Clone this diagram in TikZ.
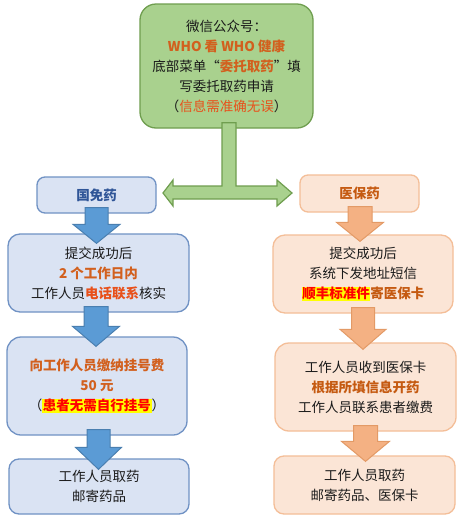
\documentclass[tikz,border=0pt]{standalone}
\usepackage{fontspec}
\setmainfont{Noto Sans CJK SC}
\usetikzlibrary{calc}
\definecolor{gfill}{HTML}{A9D18E}
\definecolor{gdraw}{HTML}{6F9E4F}
\definecolor{bfill}{HTML}{DAE3F3}
\definecolor{bdraw}{HTML}{7092C4}
\definecolor{bafill}{HTML}{5B9BD5}
\definecolor{badraw}{HTML}{4A7FB0}
\definecolor{ofill}{HTML}{FBE5D6}
\definecolor{odraw}{HTML}{F4BE98}
\definecolor{oafill}{HTML}{F4B183}
\definecolor{oadraw}{HTML}{E39A66}
\definecolor{txt}{HTML}{1A1A1A}
\definecolor{orng}{HTML}{D2601E}
\definecolor{redo}{HTML}{E8501A}
\definecolor{navy}{HTML}{2F5597}
\definecolor{brn}{HTML}{C55A11}
\definecolor{hly}{HTML}{FFFF00}
\definecolor{hlr}{HTML}{FF0000}
\newcommand\hlt[1]{{\setlength{\fboxsep}{0.6pt}\colorbox{hly}{\textcolor{hlr}{\bfseries #1}}}}
% block arrow: style, from, to, cx, shaft half, head half, tip offset, head length
\newcommand\blk[8]{%
  \draw[#1] let \p1=(#2.south), \p2=(#3.north) in
    ({(#4-#5)*1pt},{\y1+6pt}) -- ({(#4+#5)*1pt},{\y1+6pt})
    -- ({(#4+#5)*1pt},{\y2-#7pt+#8pt}) -- ({(#4+#6)*1pt},{\y2-#7pt+#8pt})
    -- ({#4*1pt},{\y2-#7pt}) -- ({(#4-#6)*1pt},{\y2-#7pt+#8pt})
    -- ({(#4-#5)*1pt},{\y2-#7pt+#8pt}) -- cycle;}
\tikzset{
  every node/.style={text=txt, font=\fontsize{13.5}{20}\selectfont, align=center, inner sep=0pt},
  gbox/.style={draw=gdraw, fill=gfill, line width=1.3pt, rounded corners=16pt},
  bbox/.style={draw=bdraw, fill=bfill, line width=1.3pt, rounded corners=#1},
  obox/.style={draw=odraw, fill=ofill, line width=1.3pt, rounded corners=#1},
  barrow/.style={draw=badraw, fill=bafill, line width=1pt, line join=miter},
  oarrow/.style={draw=oadraw, fill=oafill, line width=1pt, line join=miter},
  garrow/.style={draw=gdraw, fill=gfill, line width=1.2pt, line join=miter},
}
\begin{document}
\begin{tikzpicture}[x=1pt,y=-1pt]
\useasboundingbox (0,0) rectangle (461,520);
\fill[white] (0,0) rectangle (461,520);
% top box
\node[gbox, minimum width=173, minimum height=124] (top) at (226.5,66)
 {微信公众号：\\
  \textcolor{orng}{\bfseries WHO 看 WHO 健康}\\
  底部菜单“\textcolor{orng}{\bfseries 委托取药}”填\\
  写委托取药申请\\
  （\textcolor{redo}{信息需准确无误}）};
% headers
\node[bbox=8pt, minimum width=119, minimum height=36] (l1) at (96.5,195)
 {\textcolor{navy}{\bfseries 国免药}};
\node[obox=8pt, minimum width=119, minimum height=37] (r1) at (359.5,193.5)
 {\textcolor{brn}{\bfseries 医保药}};
% left column
\node[bbox=12pt, minimum width=181, minimum height=78] (l2) at (98.5,273)
 {提交成功后\\
  \textcolor{orng}{\bfseries 2 个工作日内}\\
  工作人员\textcolor{redo}{\bfseries 电话联系}核实};
\node[bbox=14pt, minimum width=180, minimum height=98] (l3) at (97,386)
 {\textcolor{orng}{\bfseries 向工作人员缴纳挂号费}\\
  \textcolor{orng}{\bfseries 50 元}\\
  （\hlt{患者无需自行挂号}）};
\node[bbox=10pt, minimum width=180, minimum height=55] (l4) at (99,486.5)
 {工作人员取药\\邮寄药品};
% right column
\node[obox=12pt, minimum width=180, minimum height=78] (r2) at (363,274)
 {提交成功后\\
  系统下发地址短信\\
  \hlt{顺丰标准件}\textcolor{brn}{\bfseries 寄医保卡}};
\node[obox=14pt, minimum width=181, minimum height=88] (r3) at (365.5,387)
 {工作人员收到医保卡\\
  \textcolor{brn}{\bfseries 根据所填信息开药}\\
  工作人员联系患者缴费};
\node[obox=10pt, minimum width=181, minimum height=58] (r4) at (364.5,485)
 {工作人员取药\\邮寄药品、医保卡};
% green T arrow
\coordinate (gl) at (163,193);
\coordinate (gr) at (292,193);
\draw[garrow] ($(top.south)+(-4.5,-6)$) -- ($(top.south)+(9.5,-6)$)
  -- (236,186) -- (277,186) -- (277,180) -- (gr) -- (277,206) -- (277,199)
  -- (173,199) -- (173,206) -- (gl) -- (173,180) -- (173,186) -- (222,186) -- cycle;
% blue arrows
\blk{barrow}{l1}{l2}{96.5}{11.5}{23.5}{10}{19}
\blk{barrow}{l2}{l3}{96}{12}{23.5}{10}{20}
\blk{barrow}{l3}{l4}{98.5}{11.5}{23}{11}{22}
% orange arrows
\blk{oarrow}{r1}{r2}{360}{12}{23.5}{7}{19}
\blk{oarrow}{r2}{r3}{363}{11.5}{23}{7}{20}
\blk{oarrow}{r3}{r4}{365.5}{12}{24}{6}{20}
\end{tikzpicture}
\end{document}
